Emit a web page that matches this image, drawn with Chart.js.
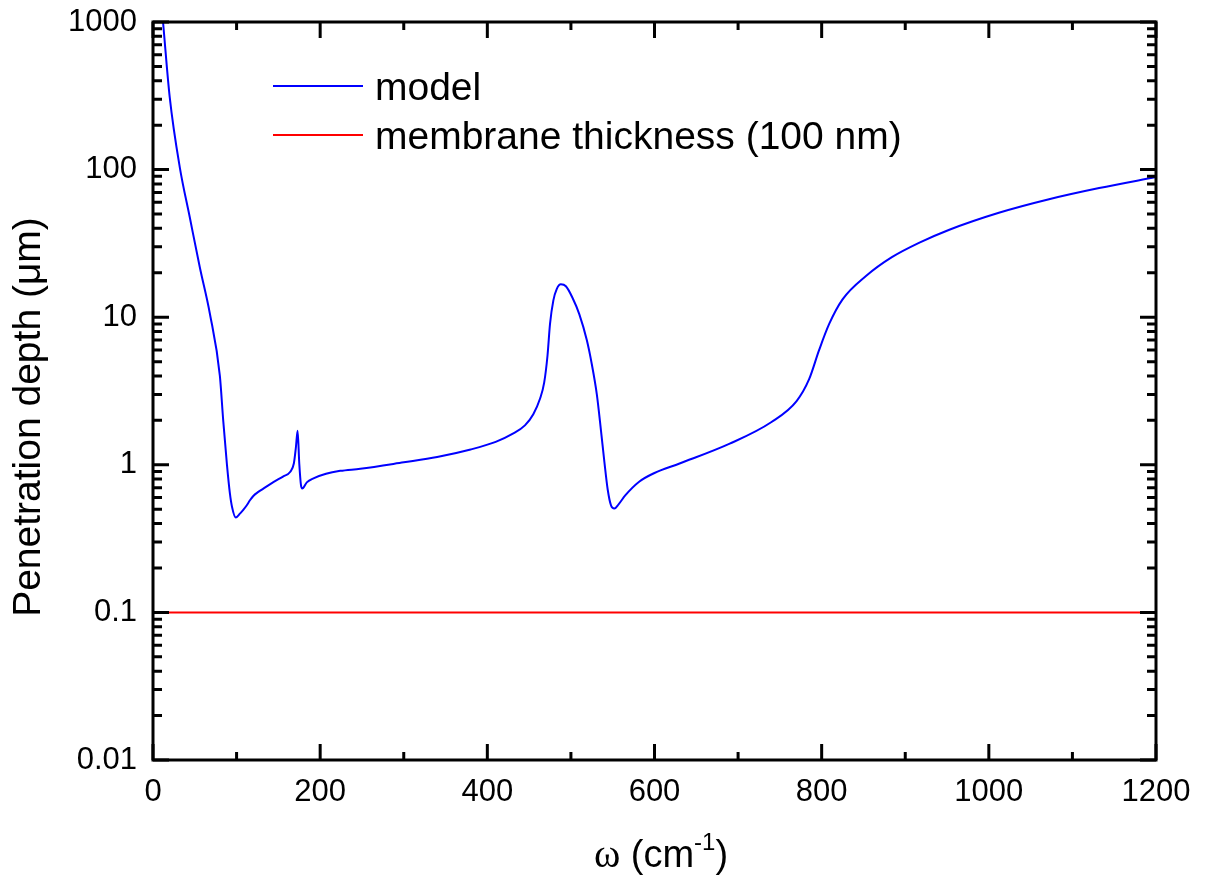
<!DOCTYPE html>
<html>
<head>
<meta charset="utf-8">
<script src="https://cdn.jsdelivr.net/npm/chart.js@4"></script>
<style>
  body { margin: 0; background: #fff; }
  canvas { display: block; }
</style>
</head>
<body>
<canvas id="myChart" width="1208" height="882"></canvas>
<script>
// model curve
const omega = [
  12, 20, 32, 44, 56, 68, 80, 84, 88.5, 92, 94.5, 99, 104, 108, 112, 116, 120,
  126, 132, 144, 156, 164, 168.5, 171, 173, 175, 177, 178.5, 184, 192, 207,
  224, 248, 300, 340, 380, 410, 430, 445, 455, 463, 468, 472, 475, 479, 483,
  488, 494, 502, 510, 519, 525, 531, 536, 540, 544, 548, 552, 557, 565, 582,
  600, 630, 690, 740, 770, 785, 797, 809, 825, 853, 884, 917, 952, 1012,
  1072, 1132, 1200,
]
const depth = [
  1000, 310, 104, 47.5, 21.8, 10.6, 4.0, 2.0, 1.0, 0.64, 0.52, 0.44, 0.467,
  0.495, 0.53, 0.575, 0.615, 0.655, 0.69, 0.764, 0.835, 0.893, 1.02, 1.32,
  1.7, 1.02, 0.73, 0.69, 0.76, 0.81, 0.87, 0.91, 0.94, 1.04, 1.13, 1.27,
  1.43, 1.62, 1.85, 2.2, 2.8, 3.6, 5.5, 9, 13, 15.5, 16.7, 16.2, 13.5, 10.5,
  7.0, 4.8, 3.0, 1.7, 1.05, 0.68, 0.53, 0.505, 0.54, 0.62, 0.77, 0.88, 1.02,
  1.39, 1.95, 2.7, 3.8, 6.0, 9.0, 13.2, 19, 25.5, 32, 39, 51, 63, 75, 89,
]
const membraneOmega = [0, 1200]
const membraneDepth = [0.1, 0.1]

const seriesLabels = ["model", "membrane thickness (100 nm)"]
const xTicks = [0, 200, 400, 600, 800, 1000, 1200]
const yTicks = [0.01, 0.1, 1, 10, 100, 1000]
const yTickLabels = ["0.01", "0.1", "1", "10", "100", "1000"]
const yTitle = "Penetration depth (\u03bcm)"

const sans = "'Liberation Sans', Arial, sans-serif"

function toPoints(xs, ys) {
  return xs.map((v, i) => ({ x: v, y: ys[i] }))
}

// frame with inward ticks on all four sides
const frameTicks = {
  id: "frameTicks",
  afterDatasetsDraw(chart) {
    const { ctx, chartArea: a, scales } = chart
    const x = scales.x
    const y = scales.y
    ctx.save()
    ctx.strokeStyle = "#000"
    ctx.lineWidth = 3
    ctx.beginPath()
    for (let v = 0; v <= 1200; v += 100) {
      const px = x.getPixelForValue(v)
      const len = xTicks.includes(v) ? 16 : 8
      ctx.moveTo(px, a.bottom)
      ctx.lineTo(px, a.bottom - len)
      ctx.moveTo(px, a.top)
      ctx.lineTo(px, a.top + len)
    }
    yTicks.forEach((dec) => {
      for (let m = 1; m <= 9; m++) {
        const v = dec * m
        if (v > 1000 + 1e-9) break
        const py = y.getPixelForValue(v)
        const len = m === 1 ? 16 : 9
        ctx.moveTo(a.left, py)
        ctx.lineTo(a.left + len, py)
        ctx.moveTo(a.right, py)
        ctx.lineTo(a.right - len, py)
      }
    })
    ctx.stroke()
    ctx.strokeRect(a.left, a.top, a.right - a.left, a.bottom - a.top)
    ctx.restore()
  },
}

// legend inside the plot + axis titles
const labelsPlugin = {
  id: "labelsPlugin",
  afterDraw(chart) {
    const { ctx } = chart
    ctx.save()
    const rows = [
      { line: 86, base: 100 },
      { line: 135, base: 149 },
    ]
    chart.data.datasets.forEach((ds, i) => {
      ctx.strokeStyle = ds.borderColor
      ctx.lineWidth = 2
      ctx.beginPath()
      ctx.moveTo(273, rows[i].line)
      ctx.lineTo(363, rows[i].line)
      ctx.stroke()
      ctx.fillStyle = "#000"
      ctx.font = "39px " + sans
      ctx.textBaseline = "alphabetic"
      ctx.textAlign = "left"
      ctx.fillText(ds.label, 375, rows[i].base)
    })

    // y title
    ctx.save()
    ctx.translate(40, 417)
    ctx.rotate(-Math.PI / 2)
    ctx.font = "39px " + sans
    ctx.textAlign = "center"
    ctx.fillText(yTitle, 0, 0)
    ctx.restore()

    // x title with superscript
    const parts = [
      { t: "\u03c9", f: "40px 'Liberation Serif', 'Times New Roman', serif", dy: 0 },
      { t: " (cm", f: "38px " + sans, dy: 0 },
      { t: "-1", f: "24px " + sans, dy: -17 },
      { t: ")", f: "38px " + sans, dy: 0 },
    ]
    let w = 0
    parts.forEach((p) => {
      ctx.font = p.f
      p.w = ctx.measureText(p.t).width
      w += p.w
    })
    let px = 661 - w / 2
    ctx.textAlign = "left"
    parts.forEach((p) => {
      ctx.font = p.f
      ctx.fillText(p.t, px, 867 + p.dy)
      px += p.w
    })
    ctx.restore()
  },
}

const ctx = document.querySelector("#myChart")

new Chart(ctx, {
  type: "line",
  data: {
    datasets: [
      {
        label: seriesLabels[0],
        data: toPoints(omega, depth),
        borderColor: "#0000ff",
        borderWidth: 2,
        pointRadius: 0,
        cubicInterpolationMode: "monotone",
        fill: false,
      },
      {
        label: seriesLabels[1],
        data: toPoints(membraneOmega, membraneDepth),
        borderColor: "#ff0000",
        borderWidth: 2,
        pointRadius: 0,
        fill: false,
      },
    ],
  },
  options: {
    responsive: false,
    animation: false,
    layout: {
      padding: { top: 22, right: 52, left: 0, bottom: 0 },
    },
    plugins: {
      legend: { display: false },
      tooltip: { enabled: false },
    },
    scales: {
      x: {
        type: "linear",
        min: 0,
        max: 1200,
        afterFit: (s) => {
          s.height = 122
        },
        afterBuildTicks: (s) => {
          s.ticks = xTicks.map((v) => ({ value: v }))
        },
        grid: { display: false, drawTicks: false },
        border: { display: false },
        ticks: {
          padding: 14,
          maxRotation: 0,
          color: "#000",
          font: { family: sans, size: 31 },
          callback: (value) => String(value),
        },
      },
      y: {
        type: "logarithmic",
        min: 0.01,
        max: 1000,
        afterFit: (s) => {
          s.width = 153
          s.paddingTop = 0
          s.paddingBottom = 0
        },
        afterBuildTicks: (s) => {
          s.ticks = yTicks.map((v) => ({ value: v }))
        },
        grid: { display: false, drawTicks: false },
        border: { display: false },
        ticks: {
          padding: 16,
          color: "#000",
          font: { family: sans, size: 31 },
          callback: (value, index) => yTickLabels[index],
        },
      },
    },
  },
  plugins: [frameTicks, labelsPlugin],
})
</script>
</body>
</html>
